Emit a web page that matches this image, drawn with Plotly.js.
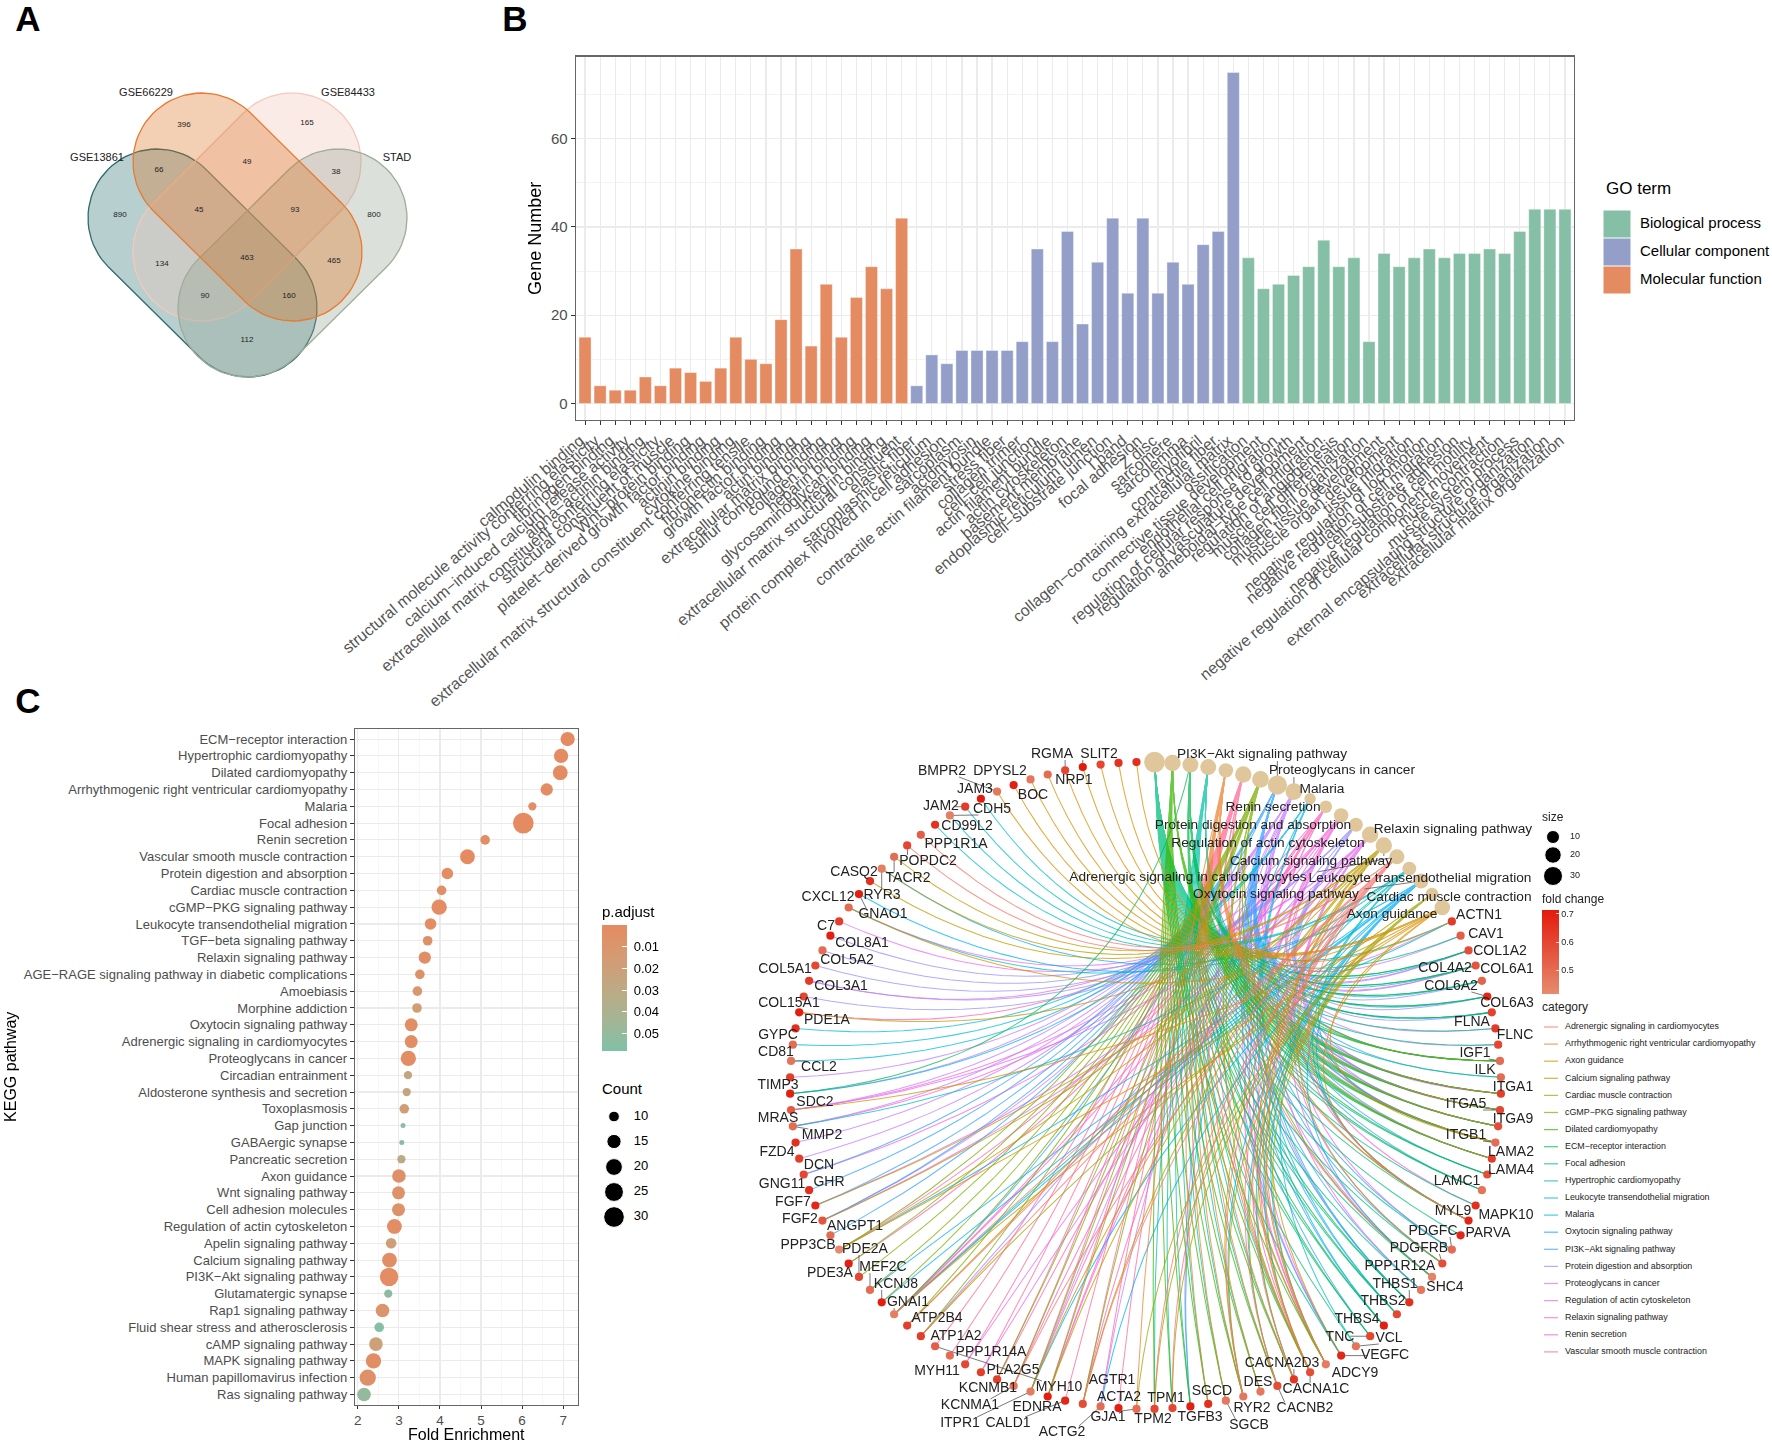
<!DOCTYPE html>
<html><head><meta charset="utf-8">
<script src="https://cdn.plot.ly/plotly-3.0.1.min.js"></script>
<style>html,body{margin:0;padding:0;background:#fff}</style></head>
<body><div id="chart" style="width:1772px;height:1443px"></div>
<script>
// ---------- Panel B data ----------
const mfTerms = ["calmodulin binding","structural molecule activity conferring elasticity","fibrinogen binding","calcium−induced calcium release activity","alpha−actinin binding","extracellular matrix constituent conferring elasticity","structural constituent of muscle","Wnt−protein binding","platelet−derived growth factor binding","actinin binding","cytokine binding","extracellular matrix structural constituent conferring tensile","fibronectin binding","growth factor binding","actin binding","extracellular matrix binding","sulfur compound binding","collagen binding","heparin binding","glycosaminoglycan binding","integrin binding","extracellular matrix structural constituent"];
const mfCounts = [15,4,3,3,6,4,8,7,5,8,15,10,9,19,35,13,27,15,24,31,26,42];
const ccTerms = ["elastic fiber","sarcoplasmic reticulum","protein complex involved in cell adhesion","sarcoplasm","actomyosin","contractile actin filament bundle","stress fiber","collagen trimer","cell−cell junction","actin filament bundle","actin cytoskeleton","basement membrane","endoplasmic reticulum lumen","cell−substrate junction","I band","focal adhesion","Z disc","sarcomere","sarcolemma","myofibril","contractile fiber","collagen−containing extracellular matrix"];
const ccCounts = [4,11,9,12,12,12,12,14,35,14,39,18,32,42,25,42,25,32,27,36,39,75];
const bpTerms = ["ossification","connective tissue development","endothelial cell migration","regulation of cellular response to growth","regulation of vasculature development","ameboidal−type cell migration","regulation of angiogenesis","muscle cell differentiation","collagen fibril organization","muscle tissue development","muscle organ development","tissue migration","negative regulation of locomotion","negative regulation of cell migration","cell−substrate adhesion","negative regulation of cell motility","negative regulation of cellular component movement","muscle contraction","muscle system process","external encapsulating structure organization","extracellular structure organization","extracellular matrix organization"];
const bpCounts = [33,26,27,29,31,37,31,33,14,34,31,33,35,33,34,34,35,34,39,44,44,44];

// ---------- Panel C data ----------
const keggTerms = ["ECM−receptor interaction","Hypertrophic cardiomyopathy","Dilated cardiomyopathy","Arrhythmogenic right ventricular cardiomyopathy","Malaria","Focal adhesion","Renin secretion","Vascular smooth muscle contraction","Protein digestion and absorption","Cardiac muscle contraction","cGMP−PKG signaling pathway","Leukocyte transendothelial migration","TGF−beta signaling pathway","Relaxin signaling pathway","AGE−RAGE signaling pathway in diabetic complications","Amoebiasis","Morphine addiction","Oxytocin signaling pathway","Adrenergic signaling in cardiomyocytes","Proteoglycans in cancer","Circadian entrainment","Aldosterone synthesis and secretion","Toxoplasmosis","Gap junction","GABAergic synapse","Pancreatic secretion","Axon guidance","Wnt signaling pathway","Cell adhesion molecules","Regulation of actin cytoskeleton","Apelin signaling pathway","Calcium signaling pathway","PI3K−Akt signaling pathway","Glutamatergic synapse","Rap1 signaling pathway","Fluid shear stress and atherosclerosis","cAMP signaling pathway","MAPK signaling pathway","Human papillomavirus infection","Ras signaling pathway"];
const keggEnrichment = [7.11,6.95,6.93,6.6,6.25,6.03,5.1,4.67,4.18,4.04,3.98,3.77,3.7,3.63,3.51,3.45,3.44,3.3,3.3,3.23,3.22,3.19,3.13,3.1,3.07,3.06,3.0,2.99,2.99,2.89,2.81,2.77,2.76,2.74,2.6,2.52,2.44,2.38,2.24,2.15];
const keggCount = [15,15,16,12,8,30,9,16,11,9,17,11,9,12,9,9,9,13,13,17,8,8,9,7,7,8,14,13,13,16,10,16,24,8,14,9,14,17,19,14];
const keggPadjust = [.0003,.0003,.0003,.0005,.004,.0001,.002,.0003,.002,.004,.0005,.002,.006,.002,.006,.012,.017,.003,.003,.001,.026,.026,.017,.052,.055,.03,.005,.007,.008,.002,.019,.003,.001,.052,.01,.056,.02,.003,.006,.05];
const padjustTicks = [.01,.02,.03,.04,.05];
const countLegend = [10,15,20,25,30];

// ---------- Panel A data ----------
const vennSets = ["GSE13861","GSE84433","STAD","GSE66229"];
const vennValues = [396,165,49,66,38,890,45,93,800,134,463,465,90,160,112];

// ---------- Panel D network data ----------
const pathwayOrder = ["Focal adhesion","Dilated cardiomyopathy","ECM−receptor interaction","Hypertrophic cardiomyopathy","Arrhythmogenic right ventricular cardiomyopathy","Vascular smooth muscle contraction","cGMP−PKG signaling pathway","PI3K−Akt signaling pathway","Proteoglycans in cancer","Malaria","Renin secretion","Relaxin signaling pathway","Protein digestion and absorption","Regulation of actin cytoskeleton","Calcium signaling pathway","Adrenergic signaling in cardiomyocytes","Leukocyte transendothelial migration","Oxytocin signaling pathway","Cardiac muscle contraction","Axon guidance"];
const geneNames = ["ACTN1","CAV1","COL1A2","COL4A2","COL6A1","COL6A2","COL6A3","FLNA","FLNC","IGF1","ILK","ITGA1","ITGA5","ITGA9","ITGB1","LAMA2","LAMA4","LAMC1","MAPK10","MYL9","PARVA","PDGFC","PDGFRB","PPP1R12A","SHC4","THBS1","THBS2","THBS4","TNC","VCL","VEGFC","ADCY9","CACNA1C","CACNA2D3","CACNB2","DES","RYR2","SGCB","SGCD","TGFB3","TPM1","TPM2","GJA1","ACTA2","ACTG2","AGTR1","CALD1","EDNRA","ITPR1","KCNMA1","KCNMB1","MYH10","MYH11","PLA2G5","PPP1R14A","ATP1A2","ATP2B4","GNAI1","KCNJ8","MEF2C","PDE2A","PDE3A","PPP3CB","ANGPT1","FGF2","FGF7","GHR","GNG11","DCN","FZD4","MMP2","MRAS","SDC2","TIMP3","CCL2","CD81","GYPC","PDE1A","COL15A1","COL3A1","COL5A1","COL5A2","COL8A1","C7","CXCL12","GNAO1","CASQ2","RYR3","TACR2","POPDC2","PPP1R1A","CD99L2","CDH5","JAM2","JAM3","BMPR2","BOC","DPYSL2","NRP1","RGMA","SLIT2","SEMA3C","SEMA5A","SEMA6D"];
const geneFold = [.63,.54,.58,.56,.52,.68,.61,.63,.6,.5,.5,.62,.6,.58,.5,.62,.58,.48,.66,.68,.68,.5,.58,.44,.47,.66,.6,.7,.6,.48,.68,.46,.58,.64,.58,.47,.47,.47,.66,.7,.6,.6,.5,.7,.5,.58,.68,.7,.46,.48,.62,.62,.6,.5,.54,.62,.62,.45,.7,.5,.6,.7,.42,.5,.56,.68,.66,.6,.62,.66,.5,.55,.7,.62,.48,.5,.66,.7,.6,.63,.6,.5,.7,.62,.5,.7,.66,.45,.5,.6,.54,.65,.45,.63,.72,.47,.7,.47,.5,.6,.72,.6,.65,.66];
const foldTicks = [.5,.6,.7];
const sizeLegend = [10,20,30];
const categories = ["Adrenergic signaling in cardiomyocytes","Arrhythmogenic right ventricular cardiomyopathy","Axon guidance","Calcium signaling pathway","Cardiac muscle contraction","cGMP−PKG signaling pathway","Dilated cardiomyopathy","ECM−receptor interaction","Focal adhesion","Hypertrophic cardiomyopathy","Leukocyte transendothelial migration","Malaria","Oxytocin signaling pathway","PI3K−Akt signaling pathway","Protein digestion and absorption","Proteoglycans in cancer","Regulation of actin cytoskeleton","Relaxin signaling pathway","Renin secretion","Vascular smooth muscle contraction"];
const categoryGenes = [
"ADCY9 AGTR1 ATP1A2 ATP2B4 CACNA1C CACNA2D3 CACNB2 GNAI1 KCNMA1 POPDC2 PPP1R1A RYR2 TPM1 TPM2 MYL9",
"ACTN1 CACNA1C CACNA2D3 CACNB2 DES GJA1 ITGA1 ITGA5 ITGA9 ITGB1 LAMA2 RYR2 SGCB SGCD",
"BMPR2 BOC CXCL12 DPYSL2 GNAI1 ITGB1 MYL9 NRP1 PPP3CB RGMA SLIT2 SEMA3C SEMA5A SEMA6D MRAS",
"ADCY9 AGTR1 ATP2B4 CACNA1C CASQ2 EDNRA FGF2 FGF7 ITPR1 PDE1A PDGFRB PPP3CB RYR2 RYR3 TACR2 VEGFC",
"ATP1A2 CACNA1C CACNA2D3 CACNB2 RYR2 TPM1 TPM2 ADCY9 GJA1",
"ADCY9 AGTR1 ATP1A2 ATP2B4 CACNA1C EDNRA GNAI1 IGF1 ITPR1 KCNJ8 KCNMA1 KCNMB1 MEF2C MYL9 PDE2A PDE3A PPP1R12A PPP3CB",
"ADCY9 CACNA1C CACNA2D3 CACNB2 DES IGF1 ITGA1 ITGA5 ITGA9 ITGB1 LAMA2 RYR2 SGCB SGCD TGFB3 TPM1 TPM2",
"COL1A2 COL4A2 COL6A1 COL6A2 COL6A3 ITGA1 ITGA5 ITGA9 ITGB1 LAMA2 LAMA4 LAMC1 SDC2 THBS1 THBS2 THBS4 TNC",
"ACTN1 CAV1 COL1A2 COL4A2 COL6A1 COL6A2 COL6A3 FLNA FLNC IGF1 ILK ITGA1 ITGA5 ITGA9 ITGB1 LAMA2 LAMA4 LAMC1 MAPK10 MYL9 PARVA PDGFC PDGFRB PPP1R12A SHC4 THBS1 THBS2 THBS4 TNC VCL VEGFC",
"CACNA1C CACNA2D3 CACNB2 DES IGF1 ITGA1 ITGA5 ITGA9 ITGB1 LAMA2 RYR2 SGCB SGCD TGFB3 TPM1 TPM2",
"ACTN1 CD99L2 CDH5 CXCL12 GNAI1 ITGB1 JAM2 JAM3 MMP2 MYL9 VCL",
"CCL2 CD81 GYPC TGFB3 THBS1 THBS2 THBS4 SDC2",
"ADCY9 CACNA1C CACNA2D3 CACNB2 GNAI1 GNAO1 ITPR1 KCNJ8 MEF2C MYL9 PPP1R12A PPP3CB RYR2 RYR3 ACTG2",
"ANGPT1 COL1A2 COL4A2 COL6A1 COL6A2 COL6A3 FGF2 FGF7 GHR GNG11 IGF1 ILK ITGA1 ITGA5 ITGA9 ITGB1 LAMA2 LAMA4 LAMC1 PDGFC PDGFRB SHC4 THBS1 THBS2 THBS4 TNC VEGFC GNAI1",
"ATP1A2 COL15A1 COL1A2 COL3A1 COL4A2 COL5A1 COL5A2 COL6A1 COL6A2 COL6A3 COL8A1",
"ACTG2 CAV1 DCN FGF2 FLNA FLNC FZD4 IGF1 ITGA5 ITGB1 ITPR1 MMP2 MRAS PPP1R12A SDC2 TGFB3 THBS1 TIMP3 VEGFC",
"ACTN1 C7 CXCL12 FGF2 FGF7 ITGA1 ITGA5 ITGA9 ITGB1 MRAS MYH10 MYH11 MYL9 PDGFC PDGFRB PPP1R12A",
"ADCY9 COL1A2 COL3A1 COL4A2 EDNRA GNAI1 GNG11 MAPK10 MMP2 SHC4 VEGFC MRAS",
"ADCY9 AGTR1 CACNA1C EDNRA GNAI1 ITPR1 KCNMA1 KCNMB1 PDE1A PDE3A PPP3CB",
"ACTA2 ACTG2 ADCY9 AGTR1 CACNA1C CALD1 EDNRA ITPR1 KCNMA1 KCNMB1 MYH10 MYH11 MYL9 PLA2G5 PPP1R12A PPP1R14A"
];

// ---------- layout constants (page pixels) ----------
const W = 1772, H = 1443;
const hueColors = ["#F8766D","#EA8331","#D89000","#C09B00","#A3A500","#7CAE00","#39B600","#00BB4E","#00BF7D","#00C1A3","#00BFC4","#00BAE0","#00B0F6","#35A2FF","#9590FF","#C77CFF","#E76BF3","#FA62DB","#FF62BC","#FF6A98"];
const FONT = "Liberation Sans, Arial, sans-serif";
const boxB = {l:576,r:1574,t:56.7,b:420};
const boxC = {l:355,r:577.5,t:729,b:1404.6};
const dom = (a,b,T)=>[a/T,b/T];
const domY = (t,b)=>[1-b/H,1-t/H];

const traces = [];

// ---------- helper: page-pixel traces ----------
function txt(xs,ys,ts,size,color,pos){
  traces.push({type:'scatter',mode:'text',x:xs,y:ys,text:ts,xaxis:'x3',yaxis:'y3',cliponaxis:false,hoverinfo:'skip',showlegend:false,
    textposition:pos||'middle center',textfont:{family:FONT,size:size,color:color||'#000'}});
}

// ---------- Panel A: Venn ----------
const vennShapes = [ // drawn back to front
  {c1:[157,218],c2:[248,308],fill:'rgba(40,110,110,.33)',line:'#2f6a6c'},
  {c1:[292,162],c2:[202,252],fill:'rgba(243,194,182,.33)',line:'#f3c9bc'},
  {c1:[338,218],c2:[247,308],fill:'rgba(146,161,143,.33)',line:'#9fad98'},
  {c1:[202,162],c2:[293,252],fill:'rgba(219,110,25,.33)',line:'#e57b33'}
];
const vennR = 69;
function stadium(c1,c2,r){
  const a=Math.atan2(c2[1]-c1[1],c2[0]-c1[0]),xs=[],ys=[];
  for(let k=0;k<=40;k++){const t=a+Math.PI/2+k/40*Math.PI;xs.push(c1[0]+r*Math.cos(t));ys.push(c1[1]+r*Math.sin(t));}
  for(let k=0;k<=40;k++){const t=a-Math.PI/2+k/40*Math.PI;xs.push(c2[0]+r*Math.cos(t));ys.push(c2[1]+r*Math.sin(t));}
  xs.push(xs[0]);ys.push(ys[0]);return [xs,ys];
}
vennShapes.forEach((s,i)=>{
  const [xs,ys]=stadium(s.c1,s.c2,vennR);
  traces.push({type:'scatter',mode:'lines',x:xs,y:ys,fill:'toself',fillcolor:s.fill,line:{color:s.line,width:1.3},xaxis:'x3',yaxis:'y3',hoverinfo:'skip',showlegend:false,name:vennSets[i]});
});
const vennLabelXY = [[184,125],[307,123],[247,162],[159,170],[336,172],[120,215],[199,210],[295,210],[374,215],[162,264],[247,258],[334,261],[205,296],[289,296],[247,340]];
txt(vennLabelXY.map(p=>p[0]),vennLabelXY.map(p=>p[1]),vennValues.map(String),8,'#222');
const vennNameXY = [[97,158],[348,93],[397,158],[146,93]];
txt(vennNameXY.map(p=>p[0]),vennNameXY.map(p=>p[1]),vennSets,11,'#222');

// ---------- panel letters ----------
txt([28,515,28],[22,22,704],['A','B','C'],35,'#000');
traces[traces.length-1].textfont.weight=700;

// ---------- Panel B: bars ----------
const allTerms = mfTerms.concat(ccTerms,bpTerms);
[[mfTerms,mfCounts,'#E58B62','Molecular function'],[ccTerms,ccCounts,'#939FC9','Cellular component'],[bpTerms,bpCounts,'#85BFA5','Biological process']].forEach(g=>{
  traces.push({type:'bar',x:g[0],y:g[1],name:g[3],marker:{color:g[2],line:{color:'rgba(255,255,255,.45)',width:.8}},width:.8,xaxis:'x',yaxis:'y',hoverinfo:'skip',showlegend:false});
});
// GO legend
const goNames=['Biological process','Cellular component','Molecular function'], goCols=['#85BFA5','#939FC9','#E58B62'], goY=[224,252,280];
traces.push({type:'scatter',mode:'markers',x:[1617,1617,1617],y:goY,marker:{symbol:'square',size:27,color:goCols,opacity:1},xaxis:'x3',yaxis:'y3',hoverinfo:'skip',showlegend:false});
txt([1640,1640,1640],goY,goNames,15,'#000','middle right');
txt([1606],[190],['GO term'],17,'#000','middle right');

// ---------- Panel C: dots ----------
const dotSize = c => 5+16*Math.sqrt(Math.max(c-7,0)/24);
const padjScale=[[0,'#80C1A7'],[.25,'#A5B595'],[.5,'#BEA983'],[.75,'#D59A72'],[1,'#E58B62']];
traces.push({type:'scatter',mode:'markers',x:keggEnrichment,y:keggTerms,xaxis:'x2',yaxis:'y2',hoverinfo:'skip',showlegend:false,cliponaxis:false,
  marker:{size:keggCount.map(dotSize),opacity:1,color:keggPadjust.map(v=>-v),cmin:-.058,cmax:0,colorscale:padjScale,line:{width:0},
    colorbar:{x:602/W,xanchor:'left',xpad:0,y:1-903/H,yanchor:'top',ypad:0,len:148,lenmode:'pixels',thickness:25,thicknessmode:'pixels',outlinewidth:0,
      ticks:'inside',ticklen:5,tickcolor:'#fff',tickwidth:1,tickvals:padjustTicks.map(v=>-v),ticktext:padjustTicks.map(v=>'\u00A0'+v.toFixed(2)),tickfont:{family:FONT,size:13,color:'#000'},
      title:{text:'p.adjust',side:'top',font:{family:FONT,size:15,color:'#000'}}}}});
const countY=[1116.5,1141.5,1167,1192,1217];
traces.push({type:'scatter',mode:'markers',x:countY.map(()=>614),y:countY,marker:{color:'#000',opacity:1,size:countLegend.map(dotSize)},xaxis:'x3',yaxis:'y3',hoverinfo:'skip',showlegend:false});
txt(countY.map(()=>641),countY,countLegend.map(String),13,'#000');
txt([602],[1090],['Count'],15,'#000','middle right');

// ---------- Panel D: network ----------
const cx=1145.5, cy=1085.5, rx=355.5, ry=323.5, N=pathwayOrder.length+geneNames.length, pull=.85;
const nodeXY = i => { const a=(i+.5)*2*Math.PI/N; return [cx+rx*Math.sin(a), cy-ry*Math.cos(a)]; };
const pathwayIdx = Object.fromEntries(pathwayOrder.map((p,i)=>[p,i]));
const geneIdx = Object.fromEntries(geneNames.map((g,i)=>[g,i+pathwayOrder.length]));
for(let k=categories.length-1;k>=0;k--){
  const cat=categories[k], P=nodeXY(pathwayIdx[cat]), xs=[], ys=[];
  categoryGenes[k].split(' ').forEach(g=>{
    const Q=nodeXY(geneIdx[g]);
    const mx=(P[0]+Q[0])/2, my=(P[1]+Q[1])/2, kx=mx+(cx-mx)*pull, ky=my+(cy-my)*pull;
    for(let j=0;j<=24;j++){const t=j/24,u=1-t;
      xs.push(u*u*P[0]+2*u*t*kx+t*t*Q[0]);
      ys.push(u*u*P[1]+2*u*t*ky+t*t*Q[1]);}
    xs.push(null);ys.push(null);
  });
  traces.push({type:'scatter',mode:'lines',x:xs,y:ys,xaxis:'x3',yaxis:'y3',line:{color:hueColors[k],width:1.05},opacity:.74,hoverinfo:'skip',showlegend:false,name:cat});
}
// leader lines
const geneLabelXY = {ACTN1:[1479,915],CAV1:[1486,934],COL1A2:[1500,951],COL4A2:[1445,968],COL6A1:[1507,969],COL6A2:[1451,986],COL6A3:[1507,1003],FLNA:[1472,1022],FLNC:[1515,1035],IGF1:[1475,1053],ILK:[1485,1070],ITGA1:[1513,1087],ITGA5:[1466,1104],ITGA9:[1513,1119],ITGB1:[1466,1135],LAMA2:[1511,1152],LAMA4:[1511,1170],LAMC1:[1457,1181],MAPK10:[1506,1215],MYL9:[1453,1211],PARVA:[1488,1233],PDGFC:[1433,1231],PDGFRB:[1419,1248],PPP1R12A:[1400,1266],SHC4:[1445,1287],THBS1:[1395,1284],THBS2:[1383,1301],THBS4:[1357,1319],TNC:[1340,1337],VCL:[1389,1338],VEGFC:[1385,1355],ADCY9:[1355,1373],CACNA2D3:[1282,1363],CACNA1C:[1316,1389],CACNB2:[1305,1408],DES:[1258,1382],RYR2:[1252,1408],SGCB:[1249,1425],SGCD:[1212,1391],TGFB3:[1200,1417],TPM1:[1166,1398],TPM2:[1153,1419],ACTA2:[1119,1397],AGTR1:[1112,1380],GJA1:[1108,1417],ACTG2:[1062,1432],EDNRA:[1037,1407],CALD1:[1008,1423],ITPR1:[960,1423],KCNMA1:[970,1405],KCNMB1:[988,1388],MYH10:[1059,1387],MYH11:[937,1371],PLA2G5:[1013,1370],PPP1R14A:[991,1352],ATP1A2:[956,1336],ATP2B4:[937,1318],GNAI1:[908,1302],KCNJ8:[896,1284],MEF2C:[883,1267],PDE2A:[865,1249],PDE3A:[830,1273],PPP3CB:[808,1245],ANGPT1:[855,1226],FGF2:[800,1219],FGF7:[793,1202],GHR:[829,1182],GNG11:[782,1184],DCN:[819,1165],FZD4:[777,1152],MMP2:[822,1135],MRAS:[778,1118],SDC2:[815,1102],TIMP3:[778,1085],CCL2:[819,1067],CD81:[776,1052],GYPC:[778,1035],PDE1A:[827,1020],COL15A1:[789,1003],COL3A1:[841,986],COL5A1:[785,969],COL5A2:[847,960],COL8A1:[862,943],C7:[826,926],CXCL12:[828,897],GNAO1:[883,914],RYR3:[882,895],CASQ2:[854,872],TACR2:[908,878],POPDC2:[928,861],PPP1R1A:[956,844],CD99L2:[967,826],JAM2:[941,806],CDH5:[992,809],JAM3:[975,789],BMPR2:[942,771],DPYSL2:[1000,771],BOC:[1033,795],NRP1:[1074,780],RGMA:[1052,754],SLIT2:[1099,754]};
const pathwayLabelXY = {"PI3K−Akt signaling pathway":[1262,755],"Proteoglycans in cancer":[1342,771],"Malaria":[1322,790],"Renin secretion":[1273,808],"Protein digestion and absorption":[1253,826],"Regulation of actin cytoskeleton":[1268,844],"Relaxin signaling pathway":[1453,830],"Calcium signaling pathway":[1311,862],"Adrenergic signaling in cardiomyocytes":[1188,878],"Leukocyte transendothelial migration":[1420,879],"Oxytocin signaling pathway":[1276,895],"Cardiac muscle contraction":[1449,898],"Axon guidance":[1392,915]};
const geneLeaders = [["SLIT2","SLIT2"],["RGMA","RGMA"],["BMPR2","BMPR2"],["JAM2","JAM2"],["CDH5","CDH5"],["POPDC2","POPDC2"],["TACR2","TACR2"],["RYR3","RYR3"],["GNAO1","GNAO1"],["CCL2","CCL2"],["MMP2","MMP2"],["MEF2C","MEF2C"],["KCNJ8","KCNJ8"],["GNAI1","GNAI1"],["PDE2A","PDE2A"],["MYH10","PPP1R14A"],["KCNMA1","KCNMA1"],["ITPR1","ITPR1"],["CALD1","CALD1"],["ACTG2","ACTG2"],["GJA1","GJA1"],["SGCB","SGCB"],["CACNA2D3","CACNA2D3"],["CACNA1C","CACNA1C"],["CACNB2","CACNB2"],["PDGFC","PDGFC"],["PDGFRB","PDGFRB"],["THBS1","THBS1"],["TNC","TNC"],["VCL","VCL"],["VEGFC","VEGFC"],["IGF1","IGF1"],["ITGA5","ITGA5"],["ITGB1","ITGB1"],["COL6A2","COL6A2"],["MYL9","MYL9"]];
const pathwayLeaders = ["PI3K−Akt signaling pathway","Proteoglycans in cancer","Protein digestion and absorption","Calcium signaling pathway","Oxytocin signaling pathway","Cardiac muscle contraction","Axon guidance","Adrenergic signaling in cardiomyocytes","Leukocyte transendothelial migration"];
const lx=[],ly=[];
function leader(node,lab,text){
  const hw=text.length*3.4,hh=6;
  const ex=Math.min(Math.max(node[0],lab[0]-hw),lab[0]+hw), ey=Math.min(Math.max(node[1],lab[1]-hh),lab[1]+hh);
  lx.push(node[0],ex,null);ly.push(node[1],ey,null);
}
geneLeaders.forEach(([l,g])=>leader(nodeXY(geneIdx[g]),geneLabelXY[l],l));
pathwayLeaders.forEach(p=>leader(nodeXY(pathwayIdx[p]),pathwayLabelXY[p],p));
traces.push({type:'scatter',mode:'lines',x:lx,y:ly,xaxis:'x3',yaxis:'y3',line:{color:'#555',width:.8},hoverinfo:'skip',showlegend:false});

// pathway nodes
const pathSize = c => 9+12*Math.sqrt(Math.max(c-7,0)/24);
const pathCount = pathwayOrder.map(p=>keggCount[keggTerms.indexOf(p)]);
const pXY = pathwayOrder.map((p,i)=>nodeXY(i));
traces.push({type:'scatter',mode:'markers',x:pXY.map(p=>p[0]),y:pXY.map(p=>p[1]),xaxis:'x3',yaxis:'y3',hoverinfo:'skip',showlegend:false,
  marker:{size:pathCount.map(pathSize),opacity:1,color:'#DFC69B',line:{width:0}}});
// gene nodes
const gXY = geneNames.map((g,i)=>nodeXY(i+pathwayOrder.length));
traces.push({type:'scatter',mode:'markers',x:gXY.map(p=>p[0]),y:gXY.map(p=>p[1]),xaxis:'x3',yaxis:'y3',hoverinfo:'skip',showlegend:false,
  marker:{size:8.2,opacity:1,color:geneFold,cmin:.416,cmax:.714,colorscale:[[0,'#E58C6E'],[1,'#E31A0C']],line:{width:0},
    colorbar:{x:1542/W,xanchor:'left',xpad:0,y:1-891/H,yanchor:'top',ypad:0,len:103,lenmode:'pixels',thickness:17,thicknessmode:'pixels',outlinewidth:0,
      ticks:'inside',ticklen:3,tickcolor:'#fff',tickwidth:.7,tickvals:foldTicks,ticktext:foldTicks.map(v=>v.toFixed(1)),tickfont:{family:FONT,size:9,color:'#222'},
      title:{text:'fold change',side:'top',font:{family:FONT,size:12,color:'#222'}}}}});
// labels
const glNames=Object.keys(geneLabelXY);
txt(glNames.map(g=>geneLabelXY[g][0]),glNames.map(g=>geneLabelXY[g][1]),glNames,14,'#222');
const plNames=Object.keys(pathwayLabelXY);
txt(plNames.map(g=>pathwayLabelXY[g][0]),plNames.map(g=>pathwayLabelXY[g][1]),plNames,13.7,'#222');

// size legend
const sizeY=[837,855,876], sizeD=[13,16.5,19];
traces.push({type:'scatter',mode:'markers',x:sizeY.map(()=>1553),y:sizeY,marker:{color:'#000',opacity:1,size:sizeD},xaxis:'x3',yaxis:'y3',hoverinfo:'skip',showlegend:false});
txt(sizeY.map(()=>1575),sizeY,sizeLegend.map(String),9,'#222');
txt([1542],[818],['size'],12,'#222','middle right');
// category legend
txt([1542],[1008],['category'],12,'#222','middle right');
const catY = categories.map((c,i)=>1027+i*17.1);
categories.forEach((c,i)=>{
  traces.push({type:'scatter',mode:'lines',x:[1544,1558],y:[catY[i],catY[i]],xaxis:'x3',yaxis:'y3',line:{color:hueColors[i],width:1.25},opacity:.7,hoverinfo:'skip',showlegend:false});
});
txt(catY.map(()=>1565),catY,categories,8.9,'#222','middle right');

const gridC='#EBEBEB';
const layout = {
  width:W,height:H,paper_bgcolor:'#fff',plot_bgcolor:'rgba(0,0,0,0)',showlegend:false,bargap:.2,
  margin:{l:0,r:0,t:0,b:0,pad:0,autoexpand:false},font:{family:FONT},
  xaxis:{domain:dom(boxB.l,boxB.r,W),anchor:'y',type:'category',categoryorder:'array',categoryarray:allTerms,range:[-.6,65.6],
    tickangle:-40,tickfont:{family:FONT,size:16,color:'#555'},ticks:'outside',ticklen:4,tickcolor:'#333',tickwidth:1,ticklabelshift:-5,
    showline:true,mirror:true,linecolor:'#666',linewidth:1.3,showgrid:true,gridcolor:gridC,gridwidth:1.2,zeroline:false,automargin:false,tickmode:'array',tickvals:allTerms,ticktext:allTerms},
  yaxis:{domain:domY(boxB.t,boxB.b),anchor:'x',range:[-3.75,78.6],tick0:0,dtick:20,tickfont:{family:FONT,size:15,color:'#4D4D4D'},ticks:'outside',ticklen:4,tickcolor:'#333',
    showline:true,mirror:true,linecolor:'#666',linewidth:1.3,showgrid:true,gridcolor:gridC,gridwidth:1.2,zeroline:false,
    minor:{dtick:10,tick0:0,showgrid:true,gridcolor:'#F0F0F0',gridwidth:.8,ticks:''},
    title:{text:'Gene Number',font:{family:FONT,size:18,color:'#000'},standoff:4}},
  xaxis2:{domain:dom(boxC.l,boxC.r,W),anchor:'y2',range:[1.93,7.35],tick0:2,dtick:1,tickfont:{family:FONT,size:13.5,color:'#4D4D4D'},ticks:'outside',ticklen:3,tickcolor:'#333',
    showline:true,mirror:true,linecolor:'#666',linewidth:1.2,showgrid:true,gridcolor:gridC,gridwidth:1.1,zeroline:false,
    minor:{dtick:.5,tick0:2,showgrid:true,gridcolor:'#F2F2F2',gridwidth:.6,ticks:''},
    title:{text:'Fold Enrichment',font:{family:FONT,size:16,color:'#000'},standoff:1}},
  yaxis2:{domain:domY(boxC.t,boxC.b),anchor:'x2',type:'category',categoryorder:'array',categoryarray:keggTerms,range:[39.6,-.6],
    tickfont:{family:FONT,size:13,color:'#4D4D4D'},ticks:'outside',ticklen:4,tickcolor:'#333',
    showline:true,mirror:true,linecolor:'#666',linewidth:1.2,showgrid:true,gridcolor:gridC,gridwidth:1.1,zeroline:false,tickmode:'array',tickvals:keggTerms,ticktext:keggTerms,
    title:{text:'KEGG pathway',font:{family:FONT,size:16,color:'#000'},standoff:3}},
  xaxis3:{domain:[0,1],anchor:'y3',range:[0,W],visible:false,fixedrange:true},
  yaxis3:{domain:[0,1],anchor:'x3',range:[H,0],visible:false,fixedrange:true}
};
Plotly.newPlot('chart',traces,layout,{displayModeBar:false,staticPlot:true});
</script></body></html>
